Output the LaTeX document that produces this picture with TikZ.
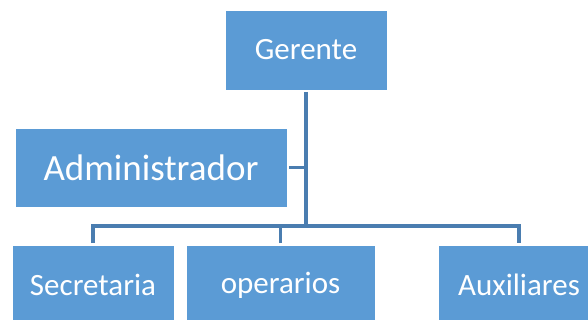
\documentclass[tikz,border=0pt]{standalone}
\usepackage{fontspec}
\setmainfont{Carlito}
\usepackage{xcolor}
\usetikzlibrary{positioning}
\definecolor{cajaazul}{HTML}{5B9BD5}
\definecolor{lineaazul}{HTML}{4A7DB0}
\tikzset{caja/.style={rectangle,draw=white,line width=0.8pt,fill=cajaazul,text=white,minimum width=162pt,minimum height=80pt,inner sep=0pt,outer sep=2pt,font=\fontsize{31}{36}\selectfont}}
\tikzset{linea/.style={draw=lineaazul,line width=3.2pt}}

\begin{document}
\begin{tikzpicture}[x=1pt,y=-1pt]
        \clip (0,0) rectangle (588,320);
        \fill[white] (0,0) rectangle (588,320);
        \node[caja] (gerente) at (306,50) {Gerente};
        \node[caja,minimum width=272pt,minimum height=79pt,font=\fontsize{37}{42}\selectfont] (admin) at (151,167.5) {Administrador};
        \node[caja] (secretaria) at (93,285) {Secretaria};
        \node[caja,minimum width=189pt] (operarios) at (280.5,285) {operarios};
        \node[caja] (auxiliares) at (519,285) {Auxiliares};
        \coordinate (bus) at (306,226);

        \draw [linea] (gerente) -- (bus);
        \draw [linea] (admin) -- (admin -| bus);
        \draw [linea] (secretaria) |- (bus) -| (auxiliares);
        \draw [linea] (operarios) -- (operarios |- bus);
    \end{tikzpicture}
\end{document}
